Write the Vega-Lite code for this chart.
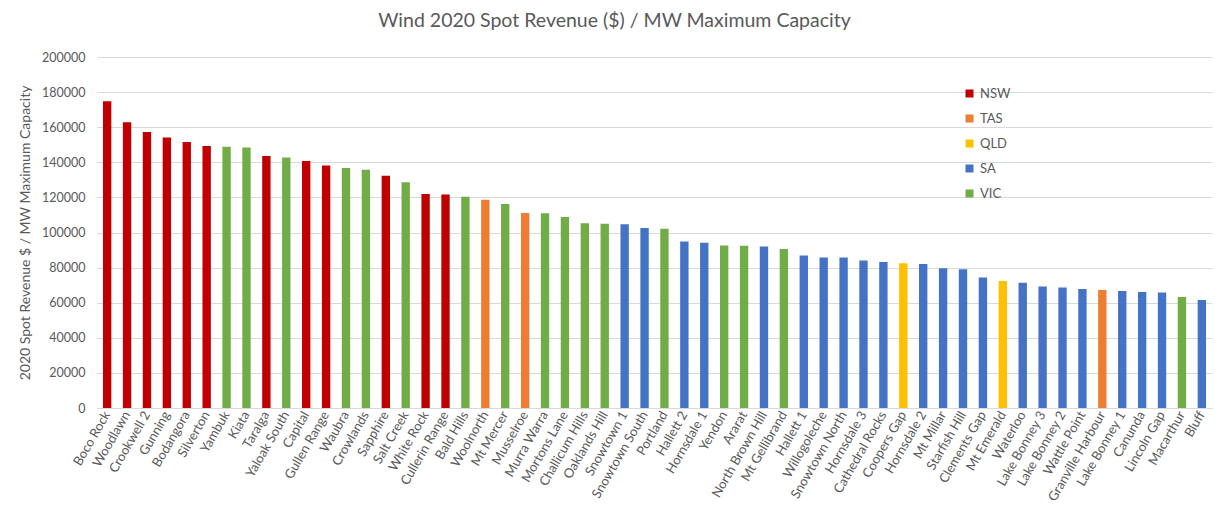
{
  "$schema": "https://vega.github.io/schema/vega-lite/v6.json",
  "width": 1115,
  "height": 351,
  "autosize": "none",
  "padding": {"left": 97, "top": 57, "right": 16, "bottom": 114},
  "background": "white",
  "title": {
    "text": "Wind 2020 Spot Revenue ($) / MW Maximum Capacity",
    "font": "Lato",
    "fontSize": 19.5,
    "fontWeight": "normal",
    "color": "#595959",
    "anchor": "middle",
    "dx": -40,
    "offset": 20
  },
  "data": {
    "values": [
      {"name": "Boco Rock", "state": "NSW", "value": 174800},
      {"name": "Woodlawn", "state": "NSW", "value": 162800},
      {"name": "Crookwell 2", "state": "NSW", "value": 157200},
      {"name": "Gunning", "state": "NSW", "value": 154100},
      {"name": "Bodangora", "state": "NSW", "value": 151600},
      {"name": "Silverton", "state": "NSW", "value": 149300},
      {"name": "Yambuk", "state": "VIC", "value": 148900},
      {"name": "Kiata", "state": "VIC", "value": 148400},
      {"name": "Taralga", "state": "NSW", "value": 143600},
      {"name": "Yaloak South", "state": "VIC", "value": 142700},
      {"name": "Capital", "state": "NSW", "value": 140800},
      {"name": "Gullen Range", "state": "NSW", "value": 138200},
      {"name": "Waubra", "state": "VIC", "value": 136700},
      {"name": "Crowlands", "state": "VIC", "value": 135800},
      {"name": "Sapphire", "state": "NSW", "value": 132300},
      {"name": "Salt Creek", "state": "VIC", "value": 128600},
      {"name": "White Rock", "state": "NSW", "value": 122000},
      {"name": "Cullerin Range", "state": "NSW", "value": 121700},
      {"name": "Bald Hills", "state": "VIC", "value": 120300},
      {"name": "Woolnorth", "state": "TAS", "value": 118600},
      {"name": "Mt Mercer", "state": "VIC", "value": 116300},
      {"name": "Musselroe", "state": "TAS", "value": 111100},
      {"name": "Murra Warra", "state": "VIC", "value": 111000},
      {"name": "Mortons Lane", "state": "VIC", "value": 108800},
      {"name": "Challicum Hills", "state": "VIC", "value": 105300},
      {"name": "Oaklands Hill", "state": "VIC", "value": 105000},
      {"name": "Snowtown 1", "state": "SA", "value": 104700},
      {"name": "Snowtown South", "state": "SA", "value": 102500},
      {"name": "Portland", "state": "VIC", "value": 102100},
      {"name": "Hallett 2", "state": "SA", "value": 94900},
      {"name": "Hornsdale 1", "state": "SA", "value": 94100},
      {"name": "Yendon", "state": "VIC", "value": 92600},
      {"name": "Ararat", "state": "VIC", "value": 92500},
      {"name": "North Brown Hill", "state": "SA", "value": 92000},
      {"name": "Mt Gellibrand", "state": "VIC", "value": 90600},
      {"name": "Hallett 1", "state": "SA", "value": 86900},
      {"name": "Willogoleche", "state": "SA", "value": 85800},
      {"name": "Snowtown North", "state": "SA", "value": 85700},
      {"name": "Hornsdale 3", "state": "SA", "value": 84000},
      {"name": "Cathedral Rocks", "state": "SA", "value": 83200},
      {"name": "Coopers Gap", "state": "QLD", "value": 82500},
      {"name": "Hornsdale 2", "state": "SA", "value": 82000},
      {"name": "Mt Millar", "state": "SA", "value": 79700},
      {"name": "Starfish Hill", "state": "SA", "value": 79100},
      {"name": "Clements Gap", "state": "SA", "value": 74300},
      {"name": "Mt Emerald", "state": "QLD", "value": 72300},
      {"name": "Waterloo", "state": "SA", "value": 71300},
      {"name": "Lake Bonney 3", "state": "SA", "value": 69300},
      {"name": "Lake Bonney 2", "state": "SA", "value": 68700},
      {"name": "Wattle Point", "state": "SA", "value": 67800},
      {"name": "Granville Harbour", "state": "TAS", "value": 67200},
      {"name": "Lake Bonney 1", "state": "SA", "value": 66600},
      {"name": "Canunda", "state": "SA", "value": 66100},
      {"name": "Lincoln Gap", "state": "SA", "value": 65800},
      {"name": "Macarthur", "state": "VIC", "value": 63200},
      {"name": "Bluff", "state": "SA", "value": 61500}
    ]
  },
  "mark": {"type": "bar"},
  "encoding": {
    "x": {
      "field": "name",
      "type": "nominal",
      "sort": null,
      "scale": {"paddingInner": 0.58, "paddingOuter": 0.3},
      "axis": {
        "title": null,
        "labelAngle": -60,
        "labelFont": "Lato",
        "labelFontSize": 13,
        "labelColor": "#595959",
        "ticks": false,
        "domainColor": "#D9D9D9",
        "labelPadding": 4
      }
    },
    "y": {
      "field": "value",
      "type": "quantitative",
      "scale": {"domain": [0, 200000]},
      "axis": {
        "title": "2020 Spot Revenue $ / MW Maximum Capacity",
        "titleFont": "Lato",
        "titleFontSize": 14,
        "titleFontWeight": "normal",
        "titleColor": "#595959",
        "titlePadding": 9,
        "values": [0, 20000, 40000, 60000, 80000, 100000, 120000, 140000, 160000, 180000, 200000],
        "format": "d",
        "labelFont": "Lato",
        "labelFontSize": 12.5,
        "labelColor": "#595959",
        "labelPadding": 12,
        "ticks": false,
        "domain": false,
        "gridColor": "#D9D9D9"
      }
    },
    "color": {
      "field": "state",
      "type": "nominal",
      "scale": {
        "domain": ["NSW", "TAS", "QLD", "SA", "VIC"],
        "range": ["#C00000", "#ED7D31", "#FFC000", "#4472C4", "#70AD47"]
      },
      "legend": {
        "title": null,
        "orient": "none",
        "legendX": 866,
        "legendY": 30,
        "symbolType": "square",
        "symbolSize": 64,
        "symbolStrokeWidth": 0,
        "labelFont": "Lato",
        "labelFontSize": 13,
        "labelColor": "#595959",
        "rowPadding": 11,
        "labelOffset": 4
      }
    }
  },
  "config": {
    "view": {"stroke": null}
  }
}
